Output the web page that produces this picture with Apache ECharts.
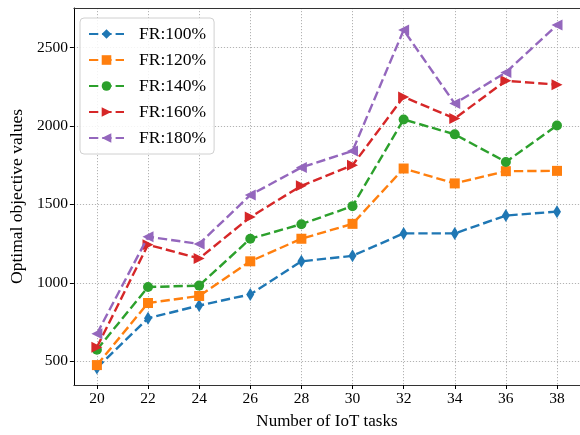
<!DOCTYPE html>
<html><head><meta charset="utf-8">
<script src="https://cdn.jsdelivr.net/npm/echarts@6/dist/echarts.min.js"></script>
<style>html,body{margin:0;padding:0;background:#fff}#c{width:580px;height:435px}</style>
</head><body><div id="c"></div>
<script>
var tasks = [20, 22, 24, 26, 28, 30, 32, 34, 36, 38];
var fr100 = [457, 774, 855, 926, 1137, 1172, 1315, 1315, 1429, 1454];
var fr120 = [475, 871, 916, 1137, 1281, 1376, 1729, 1634, 1712, 1714];
var fr140 = [573, 973, 982, 1281, 1374, 1489, 2042, 1947, 1771, 2004];
var fr160 = [589, 1243, 1155, 1419, 1619, 1750, 2186, 2048, 2289, 2264];
var fr180 = [675, 1294, 1248, 1560, 1736, 1841, 2612, 2143, 2342, 2644];
var xTicks = [20, 22, 24, 26, 28, 30, 32, 34, 36, 38];
var yTicks = [500, 1000, 1500, 2000, 2500];
var names = ['FR:100%', 'FR:120%', 'FR:140%', 'FR:160%', 'FR:180%'];
var colors = ['#1f77b4', '#ff7f0e', '#2ca02c', '#d62728', '#9467bd'];

var FONT = 'Liberation Serif';
var symbols = [
  'path://M5,0 L8.5,7 L5,14 L1.5,7 Z',
  'rect',
  'circle',
  'path://M0,0 L10,5 L0,10 Z',
  'path://M10,0 L0,5 L10,10 Z'
];
var sizes = [[8, 13], 10, 10, [11, 11], [11, 11]];
var allData = [fr100, fr120, fr140, fr160, fr180];

function pairs(arr) { return tasks.map(function (t, i) { return [t, arr[i]]; }); }

var series = allData.map(function (arr, k) {
  return {
    name: names[k], type: 'line', data: pairs(arr),
    symbol: symbols[k], symbolSize: sizes[k], showAllSymbol: true,
    lineStyle: { color: colors[k], width: 2.4, type: [9.3, 4] },
    itemStyle: { color: colors[k] },
    emphasis: { disabled: true }, animation: false, z: 3 + k
  };
});

var chart = echarts.init(document.getElementById('c'), null, { renderer: 'canvas' });
chart.setOption({
  backgroundColor: '#fff',
  animation: false,
  grid: { left: 70.7, top: 8, width: 513.6, height: 380, containLabel: false },
  legend: {
    left: 80, top: 18, orient: 'vertical',
    padding: [7, 8, 7, 8],
    itemWidth: 35, itemHeight: 12, itemGap: 8,
    backgroundColor: 'rgba(255,255,255,0.85)', borderColor: '#d0d0d0', borderWidth: 1, borderRadius: 4,
    textStyle: { fontFamily: FONT, fontSize: 17.5, color: '#000', padding: [0, 0, 0, 10] },
    data: names
  },
  xAxis: [{
    type: 'value', min: 19.1, max: 38.9,
    name: 'Number of IoT tasks', nameLocation: 'middle', nameGap: 28,
    nameTextStyle: { fontFamily: FONT, fontSize: 17, color: '#000' },
    axisLine: { show: true, lineStyle: { color: '#333', width: 1 } },
    axisTick: { show: true, inside: false, length: 4, customValues: xTicks, lineStyle: { color: '#000' } },
    axisLabel: { customValues: xTicks, fontFamily: FONT, fontSize: 15.5, color: '#000', margin: 6 },
    splitLine: { show: true, lineStyle: { color: '#aaa', type: [1.2, 1.8], width: 0.9 } }
  }, {
    type: 'value', position: 'top', min: 19.1, max: 38.9,
    axisLine: { show: true, onZero: false, lineStyle: { color: '#333', width: 1 } },
    axisTick: { show: false }, axisLabel: { show: false }, splitLine: { show: false }
  }],
  yAxis: {
    type: 'value', min: 348, max: 2753,
    name: 'Optimal objective values', nameLocation: 'middle', nameGap: 42,
    nameTextStyle: { fontFamily: FONT, fontSize: 17.5, color: '#000' },
    axisLine: { show: true, lineStyle: { color: '#000', width: 1 } },
    axisTick: { show: true, inside: false, length: 4, customValues: yTicks, lineStyle: { color: '#000' } },
    axisLabel: { customValues: yTicks, formatter: function (v) { return String(v); }, fontFamily: FONT, fontSize: 15.5, color: '#000', margin: 6 },
    splitLine: { show: true, lineStyle: { color: '#aaa', type: [1.2, 1.8], width: 0.9 } }
  },
  series: series
});
</script></body></html>
